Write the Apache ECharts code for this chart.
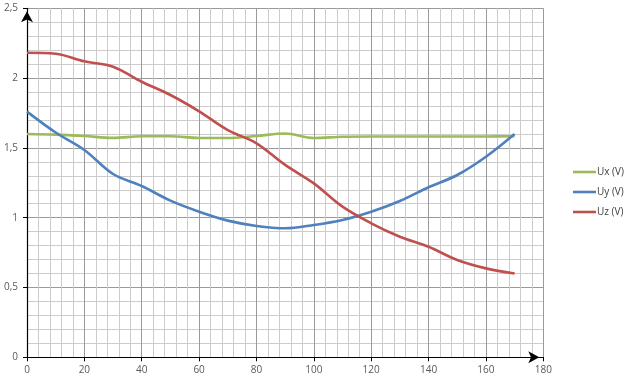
<!DOCTYPE html>
<html>
<head>
<meta charset="utf-8">
<script src="https://cdn.jsdelivr.net/npm/echarts@6/dist/echarts.min.js"></script>
<style>
html,body{margin:0;padding:0;background:#fff;}
#chart{width:627px;height:383px;}
</style>
</head>
<body>
<div id="chart"></div>
<script>
const xValues = [0,10,20,30,40,50,60,70,80,90,100,110,120,130,140,150,160,170];
const ux = [1.60,1.595,1.585,1.572,1.583,1.583,1.571,1.571,1.585,1.603,1.571,1.58,1.582,1.582,1.582,1.582,1.582,1.583];
const uy = [1.76,1.61,1.485,1.313,1.227,1.122,1.043,0.979,0.941,0.924,0.948,0.984,1.043,1.12,1.218,1.306,1.437,1.60];
const uz = [2.182,2.175,2.12,2.082,1.974,1.879,1.762,1.628,1.533,1.378,1.246,1.079,0.96,0.864,0.792,0.697,0.637,0.60];
const seriesNames = ['Ux (V)','Uy (V)','Uz (V)'];
const colors = ['#9BBB59','#4F81BD','#C0504D'];

function pairs(ys){ return xValues.map((x,i)=>[x,ys[i]]); }

const chart = echarts.init(document.getElementById('chart'));
const labelStyle = {color:'#595959', fontSize:10, fontFamily:'Open Sans, sans-serif'};
chart.setOption({
  animation:false,
  grid:{left:27, top:8.3, right:83.7, bottom:25.7, containLabel:false},
  legend:{
    orient:'vertical', left:568, top:160, itemWidth:23, itemHeight:2.6, itemGap:6,
    icon:'rect',
    textStyle:{color:'#404040', fontSize:10, lineHeight:14, fontFamily:'Open Sans, sans-serif', padding:[0,0,0,-4]},
    data:seriesNames
  },
  xAxis:{
    type:'value', min:0, max:180, interval:20,
    axisLine:{show:true, onZero:false, lineStyle:{color:'#000', width:1.2}, symbol:['none','arrow'], symbolSize:[9,11], symbolOffset:[0,-4]},
    axisTick:{show:true, inside:false, length:4, lineStyle:{color:'#000'}},
    axisLabel:Object.assign({margin:8}, labelStyle),
    splitLine:{show:true, lineStyle:{color:'#9a9a9a', width:1}},
    minorTick:{show:false, splitNumber:5},
    minorSplitLine:{show:true, lineStyle:{color:'#cccccc', width:1}}
  },
  yAxis:{
    type:'value', min:0, max:2.5, interval:0.5,
    axisLine:{show:true, onZero:false, lineStyle:{color:'#000', width:1.2}, symbol:['none','arrow'], symbolSize:[9,11], symbolOffset:[0,-3]},
    axisTick:{show:true, inside:false, length:4, lineStyle:{color:'#000'}},
    axisLabel:Object.assign({margin:9, formatter:v=>String(v).replace('.',',')}, labelStyle),
    splitLine:{show:true, lineStyle:{color:'#9a9a9a', width:1}},
    minorTick:{show:false, splitNumber:5},
    minorSplitLine:{show:true, lineStyle:{color:'#cccccc', width:1}}
  },
  series:[ux,uy,uz].map((d,i)=>({
    name:seriesNames[i], type:'line', data:pairs(d), smooth:0.35, symbol:'none',
    lineStyle:{color:colors[i], width:2.6}, itemStyle:{color:colors[i]}, z:3+i
  }))
});
</script>
</body>
</html>
